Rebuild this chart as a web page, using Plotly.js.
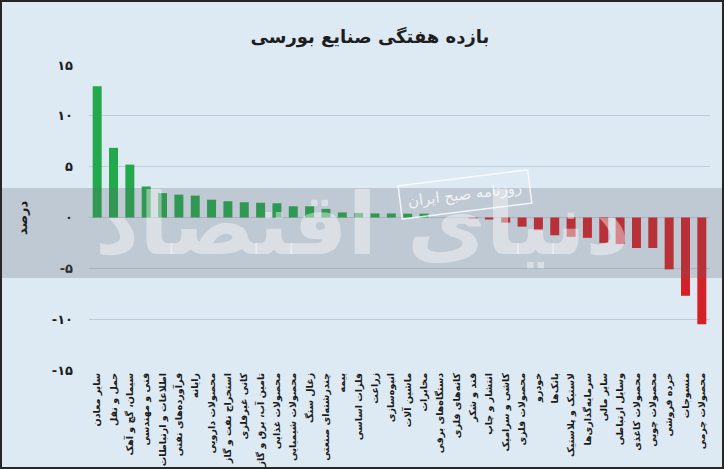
<!DOCTYPE html>
<html>
<head>
<meta charset="utf-8">
<script src="https://cdn.plot.ly/plotly-3.0.1.min.js"></script>
<style>
  html, body { margin: 0; padding: 0; background: #262626; width: 724px; height: 469px; overflow: hidden; }
  #chart { position: absolute; left: 2px; top: 2px; width: 720px; height: 465px; }
</style>
</head>
<body>
<div id="chart"></div>
<script>
// Data
const categories = [
  "سایر معادن", "حمل و نقل", "سیمان، گچ و آهک", "فنی و مهندسی", "اطلاعات و ارتباطات",
  "فرآورده‌های نفتی", "رایانه", "محصولات دارویی", "استخراج نفت و گاز", "کانی غیرفلزی",
  "تامین آب، برق و گاز", "محصولات غذایی", "محصولات شیمیایی", "زغال سنگ", "چندرشته‌ای صنعتی",
  "بیمه", "فلزات اساسی", "زراعت", "انبوه‌سازی", "ماشین آلات",
  "مخابرات", "دستگاه‌های برقی", "کانه‌های فلزی", "قند و شکر", "انتشار و چاپ",
  "کاشی و سرامیک", "محصولات فلزی", "خودرو", "بانک‌ها", "لاستیک و پلاستیک",
  "سرمایه‌گذاری‌ها", "سایر مالی", "وسایل ارتباطی", "محصولات کاغذی", "محصولات چوبی",
  "خرده فروشی", "منسوجات", "محصولات چرمی"
];
const weeklyReturn = [
  12.9, 6.85, 5.2, 3.05, 2.4,
  2.25, 2.15, 1.75, 1.6, 1.5,
  1.45, 1.4, 1.1, 1.1, 0.85,
  0.5, 0.45, 0.4, 0.4, 0.38,
  0.38, 0.0, 0.0, -0.1, -0.2,
  -0.5, -0.9, -1.25, -1.75, -1.9,
  -2.0, -2.5, -2.6, -3.0, -3.0,
  -5.1, -7.7, -10.5
];
const yTickValues = [15, 10, 5, 0, -5, -10, -15];
const yTickLabels = ["۱۵", "۱۰", "۵", "۰", "-۵", "-۱۰", "-۱۵"];
const titleText = "بازده هفتگی صنایع بورسی";
const yTitleText = "درصد";

const GREEN = "#22a94b";
const RED = "#d42128";
const FONT = "DejaVu Sans, Noto Sans, sans-serif";

const trace = {
  type: "bar",
  x: categories,
  y: weeklyReturn,
  marker: { color: weeklyReturn.map(v => v >= 0 ? GREEN : RED) },
  hoverinfo: "x+y"
};

const layout = {
  width: 720,
  height: 465,
  margin: { l: 87, r: 12, t: 63, b: 97 },
  paper_bgcolor: "#dde9f3",
  plot_bgcolor: "#dde9f3",
  bargap: 0.45,
  showlegend: false,
  title: {
    text: "<b>" + titleText + "</b>",
    font: { family: FONT, size: 18, color: "#1e1e1e" },
    x: 0.511, xanchor: "center", xref: "container",
    y: 0.925, yanchor: "middle", yref: "container"
  },
  xaxis: {
    type: "category",
    range: [-0.5, categories.length - 0.5],
    tickangle: -90,
    tickfont: { family: FONT, size: 9.5, color: "#1a1a1a", weight: "bold" },
    showgrid: false,
    zeroline: false,
    showline: false,
    ticks: "",
    automargin: false
  },
  yaxis: {
    range: [-15, 15],
    tickvals: yTickValues,
    ticktext: yTickLabels,
    tickfont: { family: FONT, size: 13, color: "#1e1e1e", weight: "bold" },
    gridcolor: "rgba(165,180,195,0.55)",
    gridwidth: 1,
    zeroline: false,
    showline: false,
    ticks: "",
    ticklabelstandoff: 15,
    automargin: false
  },
  shapes: [
    {
      type: "rect", xref: "paper", yref: "paper",
      x0: -0.2, x1: 1.1, y0: 0.302, y1: 0.597,
      fillcolor: "rgba(95,100,108,0.24)", line: { width: 0 }, layer: "above"
    }
  ],
  annotations: [
    {
      text: yTitleText, textangle: -90, showarrow: false,
      xref: "paper", yref: "y", x: -0.107, y: 0, xanchor: "center", yanchor: "middle",
      font: { family: FONT, size: 13, color: "#1e1e1e", weight: "bold" }
    },
    {
      text: "دنیای اقتصاد", showarrow: false,
      xref: "paper", yref: "paper", x: 0.44, y: 0.48, xanchor: "center", yanchor: "middle",
      font: { family: FONT, size: 86, color: "rgba(255,255,255,0.42)", weight: "bold" }
    },
    {
      text: "روزنامه صبح ایران", showarrow: false, textangle: -7,
      xref: "paper", yref: "paper", x: 0.605, y: 0.574, xanchor: "center", yanchor: "middle",
      font: { family: FONT, size: 15, color: "rgba(255,255,255,0.8)" },
      bordercolor: "rgba(255,255,255,0.8)", borderwidth: 1.5, borderpad: 7
    }
  ]
};

Plotly.newPlot("chart", [trace], layout, { displayModeBar: false, staticPlot: true });
</script>
</body>
</html>
